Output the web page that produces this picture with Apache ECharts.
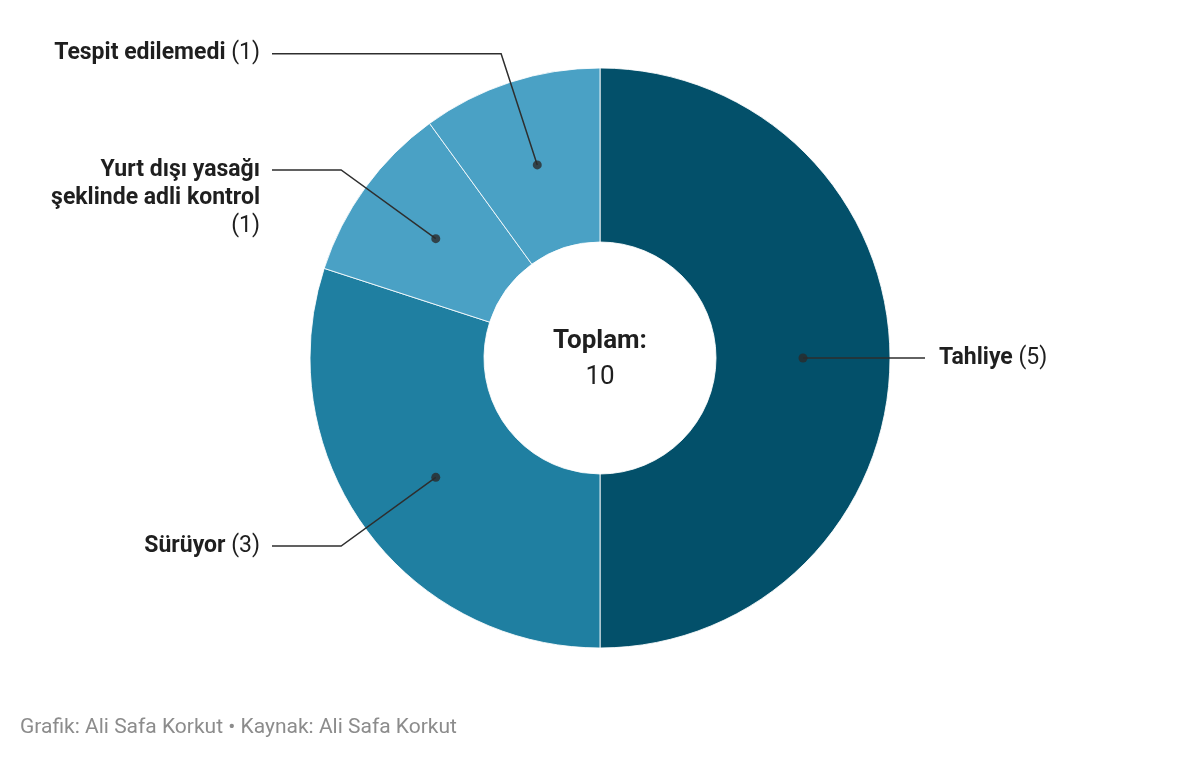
<!DOCTYPE html>
<html>
<head>
<meta charset="utf-8">
<script src="https://cdn.jsdelivr.net/npm/echarts@6/dist/echarts.min.js"></script>
<style>
  html, body { margin: 0; padding: 0; background: #fff; }
  #chart { width: 1200px; height: 761px; }
</style>
</head>
<body>
<div id="chart"></div>
<script>
// data
const categories = ["Tahliye", "Sürüyor", "Yurt dışı yasağı\nşeklinde adli kontrol", "Tespit edilemedi"];
const values = [5, 3, 1, 1];
const colors = ["#03506a", "#1f7fa1", "#4aa1c5", "#4aa1c5"];
const centerTitle = "Toplam:";
const footerText = "Grafik: Ali Safa Korkut • Kaynak: Ali Safa Korkut";

const total = values.reduce((a, b) => a + b, 0);
const cx = 600, cy = 358;
const FONT = "Roboto, 'Noto Sans', sans-serif";

// midpoints of slices, for the dots
let acc = 0;
const mids = values.map(v => { const m = acc + v / 2; acc += v; return m; });

function labelText(name, value) {
  const lines = name.split("\n");
  const parts = lines.map(l => "{b|" + l + "}");
  if (lines.length > 1) return parts.join("\n") + "\n{v|(" + value + ")}";
  return parts[0] + "{v| (" + value + ")}";
}

const chart = echarts.init(document.getElementById("chart"));
chart.setOption({
  animation: false,
  polar: { center: [cx, cy], radius: 203 },
  angleAxis: {
    type: "value", min: 0, max: total, startAngle: 90, clockwise: true,
    axisLine: { show: false }, axisTick: { show: false }, axisLabel: { show: false }, splitLine: { show: false }
  },
  radiusAxis: {
    type: "value", min: 0, max: 1,
    axisLine: { show: false }, axisTick: { show: false }, axisLabel: { show: false }, splitLine: { show: false }
  },
  graphic: [
    { type: "text", x: cx, y: 341, style: { text: centerTitle, font: "bold 26px " + FONT, fill: "#1f1f1f", textAlign: "center", textVerticalAlign: "middle" } },
    { type: "text", x: cx, y: 377, style: { text: String(total), font: "26px " + FONT, fill: "#1f1f1f", textAlign: "center", textVerticalAlign: "middle" } },
    { type: "text", x: 20, y: 728, style: { text: footerText, font: "21px " + FONT, fill: "#8c8c8c", textVerticalAlign: "middle" } }
  ],
  series: [
    {
      // visible donut
      type: "pie",
      z: 1,
      center: [cx, cy],
      radius: [116, 290],
      startAngle: 90,
      clockwise: true,
      silent: true,
      label: { show: false },
      labelLine: { show: false },
      itemStyle: { borderColor: "rgba(255,255,255,0.85)", borderWidth: 1 },
      data: categories.map((c, i) => ({ name: c, value: values[i], itemStyle: { color: colors[i] } }))
    },
    {
      // transparent pie carrying the labels, leader lines start at mid ring
      type: "pie",
      z: 3,
      center: [cx, cy],
      radius: [0, 203],
      startAngle: 90,
      clockwise: true,
      silent: true,
      avoidLabelOverlap: false,
      itemStyle: { color: "transparent" },
      label: {
        show: true,
        position: "outside",
        formatter: p => labelText(p.name, p.value),
        lineHeight: 28,
        rich: {
          b: { fontFamily: FONT, fontWeight: "bold", fontSize: 23, color: "#1f1f1f", lineHeight: 28 },
          v: { fontFamily: FONT, fontSize: 23, color: "#1f1f1f", lineHeight: 28 }
        }
      },
      labelLine: { show: true, length: 117, length2: 40, lineStyle: { color: "#2e2e2e", width: 1.5 } },
      labelLayout: function (params) {
        const pts = params.labelLinePoints;
        if (!pts) return {};
        const isLeft = pts[2][0] < cx;
        const endX = isLeft ? 272 : 925;
        const p = [[pts[0][0], pts[0][1]], [pts[1][0], pts[1][1]], [endX, pts[1][1]]];
        return {
          x: isLeft ? endX - 12 : endX + 14,
          y: pts[1][1] - 14,
          align: isLeft ? "right" : "left",
          verticalAlign: "top",
          labelLinePoints: p
        };
      },
      data: categories.map((c, i) => ({
        name: c,
        value: values[i],
        labelLine: i === 0 ? { length: 60 } : undefined
      }))
    },
    {
      type: "scatter",
      coordinateSystem: "polar",
      z: 4,
      silent: true,
      symbolSize: 9,
      itemStyle: { color: "#2b2b2b" },
      data: mids.map(m => [1, m])
    }
  ]
});
</script>
</body>
</html>
